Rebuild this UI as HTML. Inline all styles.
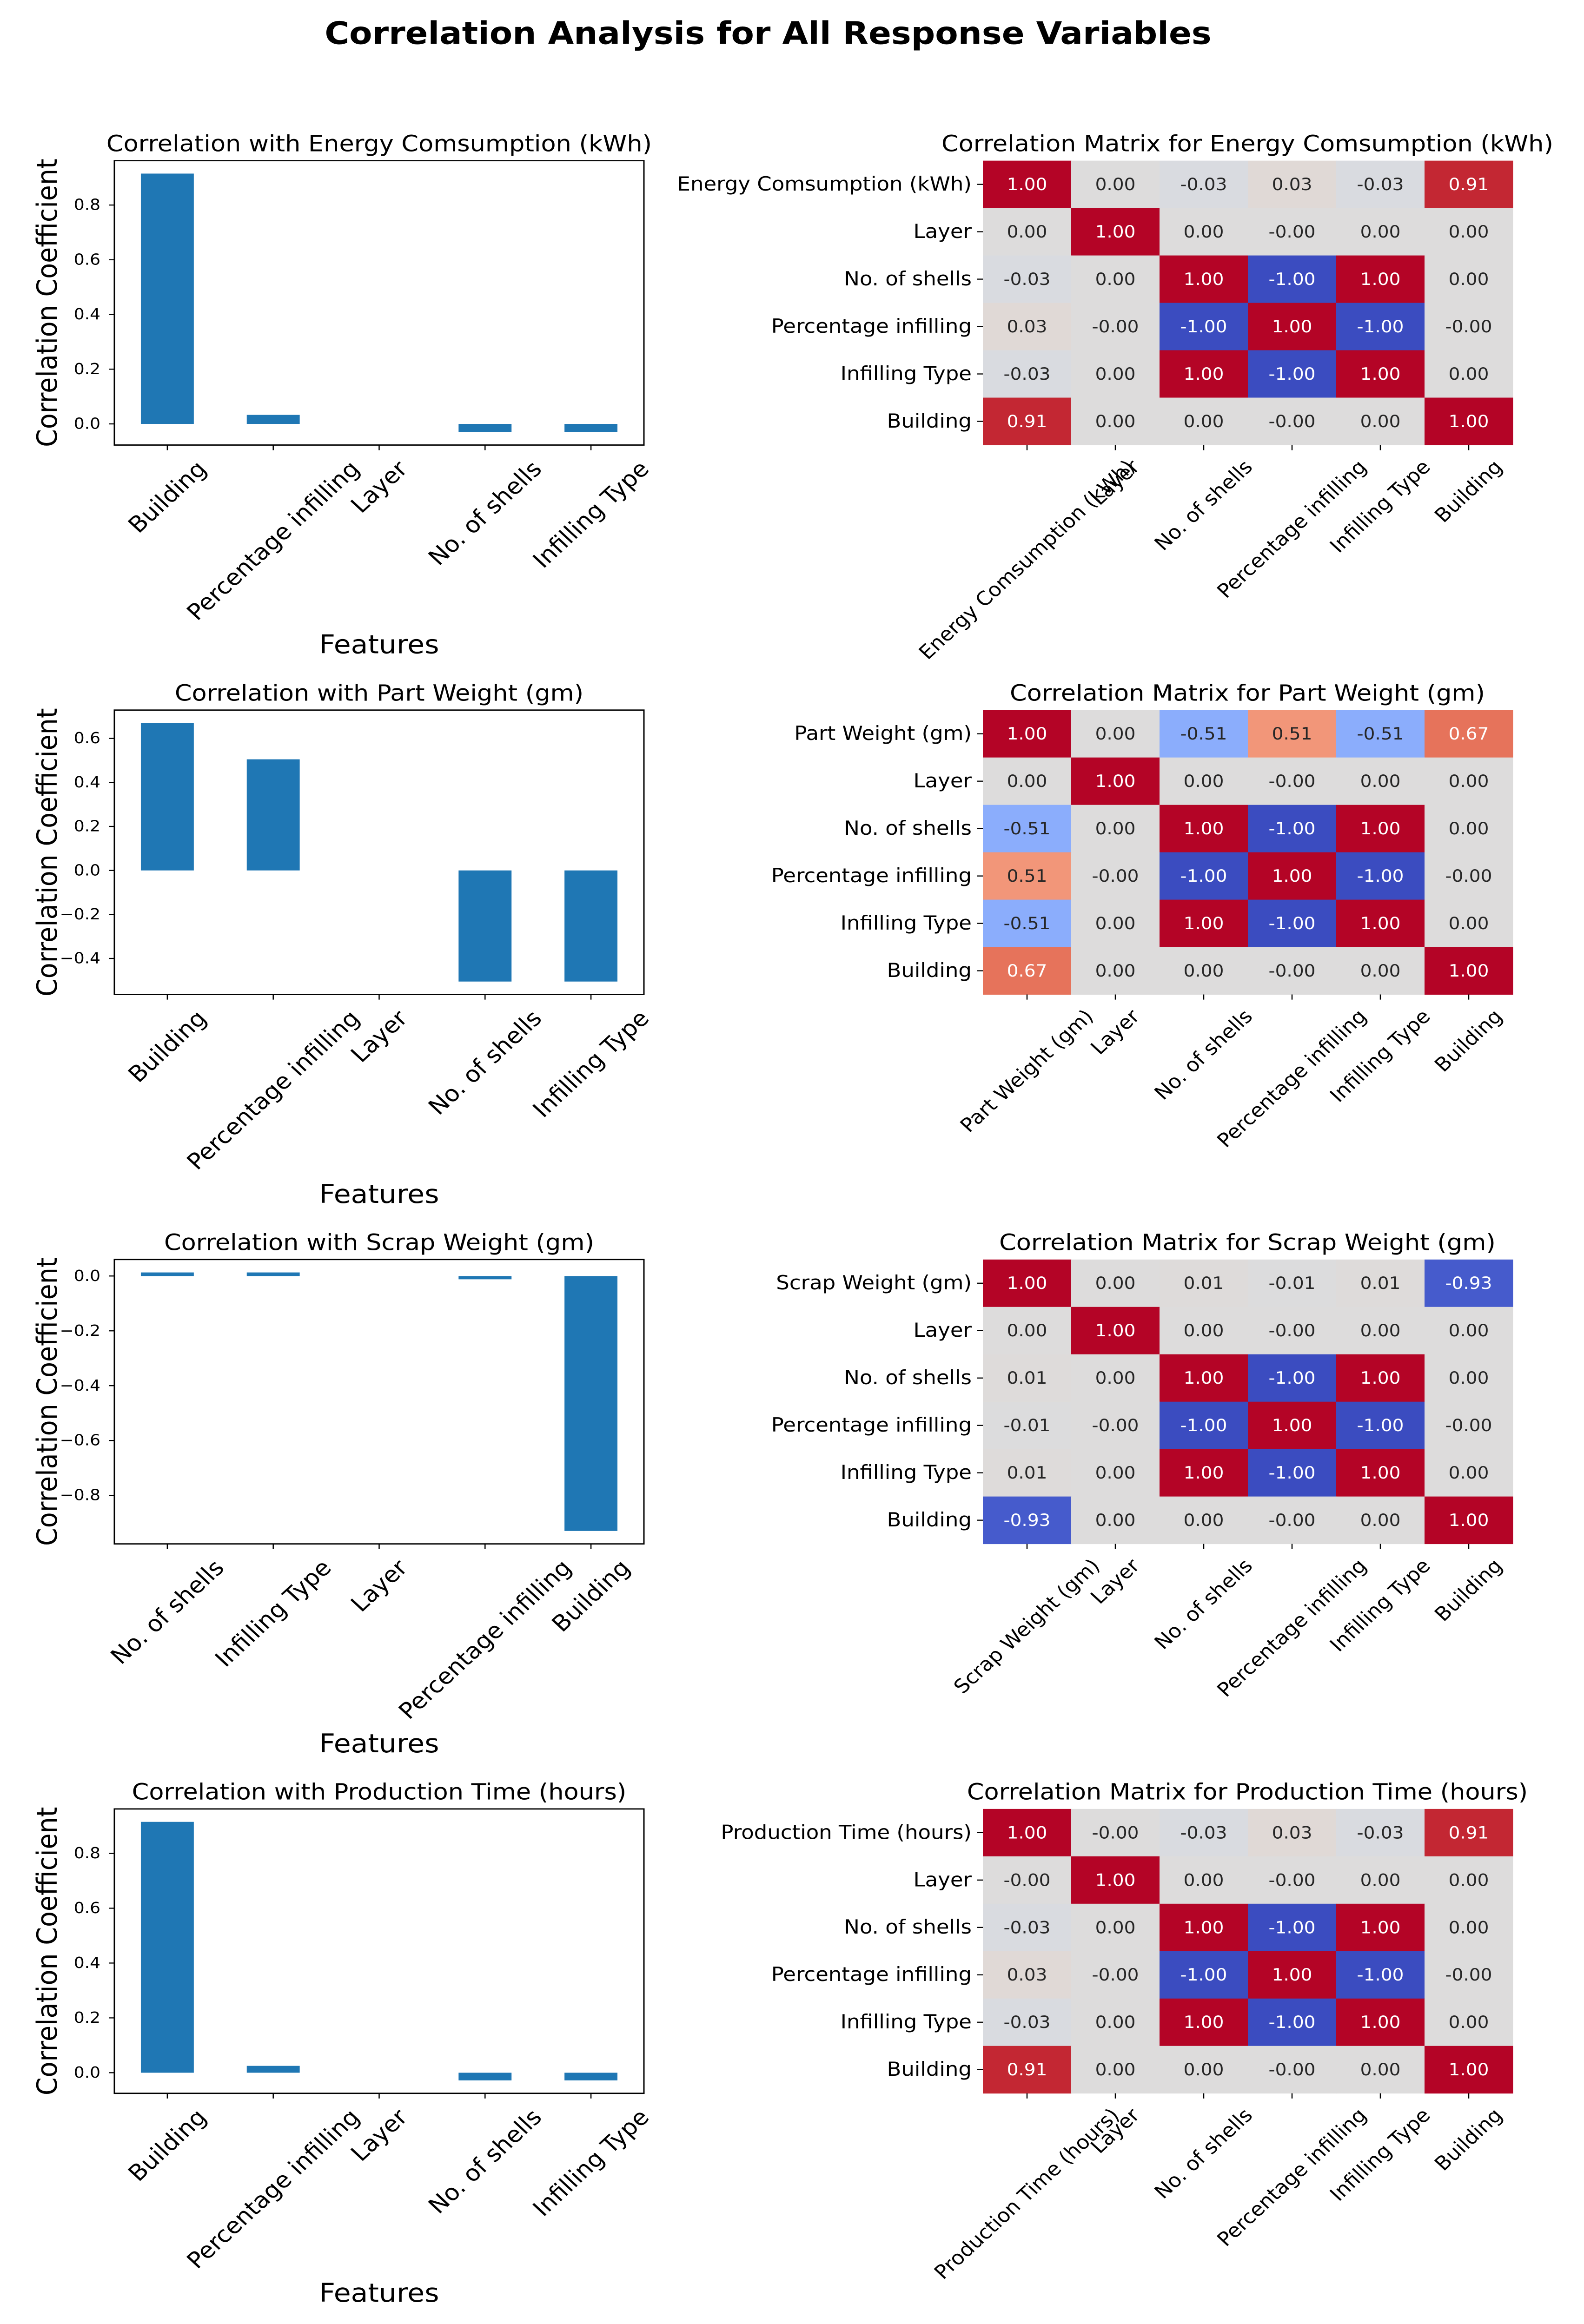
<!DOCTYPE html>
<html><head><meta charset="utf-8"><title>Correlation Analysis</title>
<style>
html,body{margin:0;padding:0;background:#fff;width:100%;height:100%;overflow:hidden;}
svg{display:block;font-family:"DejaVu Sans","Liberation Sans",sans-serif;overflow:hidden;width:100vw;height:100vh;}
</style></head>
<body>
<svg id="fig" viewBox="0 0 3407 5410" preserveAspectRatio="none" xmlns="http://www.w3.org/2000/svg">
<rect x="0" y="0" width="3407" height="5410" fill="#ffffff"/>
<text x="1652" y="102" text-anchor="middle" font-size="72" font-weight="bold" fill="#000">Correlation Analysis for All Response Variables</text>
</svg>
<script>
// ---- data ----
const targets = ["Energy Comsumption (kWh)", "Part Weight (gm)", "Scrap Weight (gm)", "Production Time (hours)"];
const barCats1 = ["Building", "Percentage infilling", "Layer", "No. of shells", "Infilling Type"];
const barVals1 = [0.915, 0.033, 0, -0.03, -0.03];
const barCats2 = ["Building", "Percentage infilling", "Layer", "No. of shells", "Infilling Type"];
const barVals2 = [0.67, 0.505, 0, -0.505, -0.505];
const barCats3 = ["No. of shells", "Infilling Type", "Layer", "Percentage infilling", "Building"];
const barVals3 = [0.013, 0.013, 0, -0.012, -0.93];
const barCats4 = ["Building", "Percentage infilling", "Layer", "No. of shells", "Infilling Type"];
const barVals4 = [0.915, 0.025, 0, -0.028, -0.028];
const yTicks1 = [0.0, 0.2, 0.4, 0.6, 0.8];
const yTicks2 = [-0.4, -0.2, 0.0, 0.2, 0.4, 0.6];
const yTicks3 = [-0.8, -0.6, -0.4, -0.2, 0.0];
const yTicks4 = [0.0, 0.2, 0.4, 0.6, 0.8];
const matFeatures = ["Layer", "No. of shells", "Percentage infilling", "Infilling Type", "Building"];
const targetCorr1 = [1, 0.001, -0.03, 0.03, -0.03, 0.91];
const targetCorr2 = [1, 0.001, -0.51, 0.51, -0.51, 0.67];
const targetCorr3 = [1, 0.001, 0.01, -0.01, 0.01, -0.93];
const targetCorr4 = [1, -0.001, -0.03, 0.03, -0.03, 0.91];
const featCorrLayer = [1, 0.001, -0.001, 0.001, 0.001];
const featCorrShells = [0.001, 1, -1, 1, 0.001];
const featCorrPct = [-0.001, -1, 1, -1, -0.001];
const featCorrType = [0.001, 1, -1, 1, 0.001];
const featCorrBuilding = [0.001, 0.001, -0.001, 0.001, 1];

const NS = "http://www.w3.org/2000/svg";
const svg = document.getElementById('fig');
function el(tag, attrs, parent, txt){
  const e = document.createElementNS(NS, tag);
  for (const k in attrs) e.setAttribute(k, attrs[k]);
  if (txt !== undefined) e.textContent = txt;
  (parent || svg).appendChild(e);
  return e;
}
const cw = [[59,76,192],[89,119,227],[123,159,249],[158,190,255],[192,212,245],[221,220,220],[242,203,183],[247,172,142],[238,132,104],[214,82,68],[180,4,38]];
function coolwarm(v){
  let t = (v + 1) / 2 * 10; t = Math.max(0, Math.min(10, t));
  const i = Math.min(9, Math.floor(t)), f = t - i;
  return cw[i].map((c, k) => Math.round(c + (cw[i+1][k] - c) * f));
}
function lum(rgb){
  const l = rgb.map(c => { c /= 255; return c <= 0.03928 ? c / 12.92 : Math.pow((c + 0.055) / 1.055, 2.2); });
  return 0.2126 * l[0] + 0.7152 * l[1] + 0.0722 * l[2];
}
function fmtTick(v){ const s = Math.abs(v).toFixed(1); return (v < -1e-9 ? "\u2212" : "") + s; }

function rotLabel(text, cx, topY, fs, name, g){
  const t = el('text', {x: 0, y: 0, 'font-size': fs, 'text-anchor': 'middle', 'dominant-baseline': 'central', fill: '#000'}, g, text);
  
  
  const w = t.getComputedTextLength();
  const h = fs * 1.1;
  const bh = (w + h) * Math.SQRT1_2;
  t.setAttribute('transform', 'translate(' + cx + ',' + (topY + bh / 2) + ') rotate(-45)');
}

const allBarCats = [barCats1, barCats2, barCats3, barCats4];
const allBarVals = [barVals1, barVals2, barVals3, barVals4];
const allYTicks = [yTicks1, yTicks2, yTicks3, yTicks4];
const allTarget = [targetCorr1, targetCorr2, targetCorr3, targetCorr4];
const featRows = [featCorrLayer, featCorrShells, featCorrPct, featCorrType, featCorrBuilding];

const ROW = 1279;
for (let r = 0; r < 4; r++){
  const oy = r * ROW;
  const top = 374 + oy, bot = 1036 + oy, L = 246, R = 1385;
  const cats = allBarCats[r], vals = allBarVals[r], ticks = allYTicks[r];
  const g = el('g', {});
  
  
  let mn = Math.min(0, ...vals), mx = Math.max(0, ...vals);
  const pad = (mx - mn) * 0.05; mn -= pad; mx += pad;
  const yS = v => bot - (v - mn) / (mx - mn) * (bot - top);
  const step = (R - L) / cats.length;
  const xS = i => L + step * (i + 0.5);
  const tt = el('text', {x: (L + R) / 2, y: 352 + oy, 'text-anchor': 'middle', 'font-size': 52.5, fill: '#000'}, g, 'Correlation with ' + targets[r]);
  
  
  vals.forEach((v, i) => {
    const y0 = yS(0), y1 = yS(v);
    const b = el('rect', {x: xS(i) - step * 0.25, y: Math.min(y0, y1), width: step * 0.5, height: Math.abs(y1 - y0), fill: '#1f77b4'}, g);
    
    
  });
  el('rect', {x: L, y: top, width: R - L, height: bot - top, fill: 'none', stroke: '#000', 'stroke-width': 3}, g);
  ticks.forEach(v => {
    const y = yS(v);
    el('line', {x1: L - 12, x2: L, y1: y, y2: y, stroke: '#000', 'stroke-width': 2.5}, g);
    const tl = el('text', {x: 216, y: y, 'text-anchor': 'end', 'dominant-baseline': 'central', 'font-size': 36, fill: '#000'}, g, fmtTick(v));
    
    
  });
  cats.forEach((c, i) => {
    el('line', {x1: xS(i), x2: xS(i), y1: bot, y2: bot + 12, stroke: '#000', 'stroke-width': 2.5}, g);
    rotLabel(c, xS(i), bot + 26, 52, 'x-tick-label', g);
  });
  const yl = el('text', {x: 0, y: 0, 'text-anchor': 'middle', 'font-size': 60, fill: '#000', transform: 'translate(122,' + (top + bot) / 2 + ') rotate(-90)'}, g, 'Correlation Coefficient');
  
  
  const xl = el('text', {x: (L + R) / 2, y: 1521 + oy, 'text-anchor': 'middle', 'font-size': 60, fill: '#000'}, g, 'Features');
  
  

  const hg = el('g', {});
  
  
  const HL = 2114, HR = 3254;
  const labels = [targets[r]].concat(matFeatures);
  const n = labels.length;
  const cwid = (HR - HL) / n, chei = (bot - top) / n;
  const ht = el('text', {x: 2683, y: 352 + oy, 'text-anchor': 'middle', 'font-size': 52.5, fill: '#000'}, hg, 'Correlation Matrix for ' + targets[r]);
  
  
  const tc = allTarget[r];
  for (let i = 0; i < n; i++){
    for (let j = 0; j < n; j++){
      let v;
      if (i === 0) v = tc[j];
      else if (j === 0) v = tc[i];
      else v = featRows[i - 1][j - 1];
      const col = coolwarm(v);
      const cell = el('rect', {x: HL + j * cwid, y: top + i * chei, width: cwid + 0.5, height: chei + 0.5, fill: 'rgb(' + col.join(',') + ')'}, hg);
      
      
      const at = el('text', {x: HL + (j + 0.5) * cwid, y: top + (i + 0.5) * chei, 'text-anchor': 'middle', 'dominant-baseline': 'central', 'font-size': 39, fill: lum(col) < 0.408 ? '#ffffff' : '#262626'}, hg, v.toFixed(2));
      
      
    }
  }
  labels.forEach((lab, i) => {
    const y = top + (i + 0.5) * chei;
    el('line', {x1: HL - 12, x2: HL, y1: y, y2: y, stroke: '#000', 'stroke-width': 2.5}, hg);
    const yt = el('text', {x: HL - 24, y: y, 'text-anchor': 'end', 'dominant-baseline': 'central', 'font-size': 45, fill: '#000'}, hg, lab);
    
    
    const x = HL + (i + 0.5) * cwid;
    el('line', {x1: x, x2: x, y1: bot, y2: bot + 12, stroke: '#000', 'stroke-width': 2.5}, hg);
    rotLabel(lab, x, bot + 26, 45, 'heatmap-col-label', hg);
  });
}
</script>
</body></html>
